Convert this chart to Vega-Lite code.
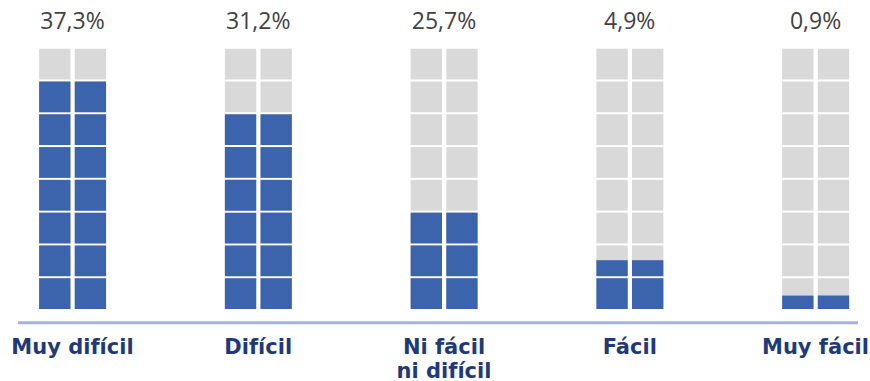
{
  "$schema": "https://vega.github.io/schema/vega-lite/v6.json",
  "width": 870,
  "height": 381,
  "padding": 0,
  "autosize": {"type": "none"},
  "background": "white",
  "config": {"view": {"stroke": null}},
  "datasets": {
    "cats": [
      {"cat": "Muy difícil", "pct": "37,3%"},
      {"cat": "Difícil", "pct": "31,2%"},
      {"cat": "Ni fácil\nni difícil", "pct": "25,7%"},
      {"cat": "Fácil", "pct": "4,9%"},
      {"cat": "Muy fácil", "pct": "0,9%"}
    ],
    "cells": [
      {"cat": "Muy difícil", "col": 1, "lo": 0, "hi": 1, "blue": 1},
      {"cat": "Muy difícil", "col": 1, "lo": 1, "hi": 2, "blue": 2},
      {"cat": "Muy difícil", "col": 1, "lo": 2, "hi": 3, "blue": 3},
      {"cat": "Muy difícil", "col": 1, "lo": 3, "hi": 4, "blue": 4},
      {"cat": "Muy difícil", "col": 1, "lo": 4, "hi": 5, "blue": 5},
      {"cat": "Muy difícil", "col": 1, "lo": 5, "hi": 6, "blue": 6},
      {"cat": "Muy difícil", "col": 1, "lo": 6, "hi": 7, "blue": 7},
      {"cat": "Muy difícil", "col": 1, "lo": 7, "hi": 8, "blue": null},
      {"cat": "Muy difícil", "col": 2, "lo": 0, "hi": 1, "blue": 1},
      {"cat": "Muy difícil", "col": 2, "lo": 1, "hi": 2, "blue": 2},
      {"cat": "Muy difícil", "col": 2, "lo": 2, "hi": 3, "blue": 3},
      {"cat": "Muy difícil", "col": 2, "lo": 3, "hi": 4, "blue": 4},
      {"cat": "Muy difícil", "col": 2, "lo": 4, "hi": 5, "blue": 5},
      {"cat": "Muy difícil", "col": 2, "lo": 5, "hi": 6, "blue": 6},
      {"cat": "Muy difícil", "col": 2, "lo": 6, "hi": 7, "blue": 7},
      {"cat": "Muy difícil", "col": 2, "lo": 7, "hi": 8, "blue": null},
      {"cat": "Difícil", "col": 1, "lo": 0, "hi": 1, "blue": 1},
      {"cat": "Difícil", "col": 1, "lo": 1, "hi": 2, "blue": 2},
      {"cat": "Difícil", "col": 1, "lo": 2, "hi": 3, "blue": 3},
      {"cat": "Difícil", "col": 1, "lo": 3, "hi": 4, "blue": 4},
      {"cat": "Difícil", "col": 1, "lo": 4, "hi": 5, "blue": 5},
      {"cat": "Difícil", "col": 1, "lo": 5, "hi": 6, "blue": 6},
      {"cat": "Difícil", "col": 1, "lo": 6, "hi": 7, "blue": null},
      {"cat": "Difícil", "col": 1, "lo": 7, "hi": 8, "blue": null},
      {"cat": "Difícil", "col": 2, "lo": 0, "hi": 1, "blue": 1},
      {"cat": "Difícil", "col": 2, "lo": 1, "hi": 2, "blue": 2},
      {"cat": "Difícil", "col": 2, "lo": 2, "hi": 3, "blue": 3},
      {"cat": "Difícil", "col": 2, "lo": 3, "hi": 4, "blue": 4},
      {"cat": "Difícil", "col": 2, "lo": 4, "hi": 5, "blue": 5},
      {"cat": "Difícil", "col": 2, "lo": 5, "hi": 6, "blue": 6},
      {"cat": "Difícil", "col": 2, "lo": 6, "hi": 7, "blue": null},
      {"cat": "Difícil", "col": 2, "lo": 7, "hi": 8, "blue": null},
      {"cat": "Ni fácil\nni difícil", "col": 1, "lo": 0, "hi": 1, "blue": 1},
      {"cat": "Ni fácil\nni difícil", "col": 1, "lo": 1, "hi": 2, "blue": 2},
      {"cat": "Ni fácil\nni difícil", "col": 1, "lo": 2, "hi": 3, "blue": 3},
      {"cat": "Ni fácil\nni difícil", "col": 1, "lo": 3, "hi": 4, "blue": null},
      {"cat": "Ni fácil\nni difícil", "col": 1, "lo": 4, "hi": 5, "blue": null},
      {"cat": "Ni fácil\nni difícil", "col": 1, "lo": 5, "hi": 6, "blue": null},
      {"cat": "Ni fácil\nni difícil", "col": 1, "lo": 6, "hi": 7, "blue": null},
      {"cat": "Ni fácil\nni difícil", "col": 1, "lo": 7, "hi": 8, "blue": null},
      {"cat": "Ni fácil\nni difícil", "col": 2, "lo": 0, "hi": 1, "blue": 1},
      {"cat": "Ni fácil\nni difícil", "col": 2, "lo": 1, "hi": 2, "blue": 2},
      {"cat": "Ni fácil\nni difícil", "col": 2, "lo": 2, "hi": 3, "blue": 3},
      {"cat": "Ni fácil\nni difícil", "col": 2, "lo": 3, "hi": 4, "blue": null},
      {"cat": "Ni fácil\nni difícil", "col": 2, "lo": 4, "hi": 5, "blue": null},
      {"cat": "Ni fácil\nni difícil", "col": 2, "lo": 5, "hi": 6, "blue": null},
      {"cat": "Ni fácil\nni difícil", "col": 2, "lo": 6, "hi": 7, "blue": null},
      {"cat": "Ni fácil\nni difícil", "col": 2, "lo": 7, "hi": 8, "blue": null},
      {"cat": "Fácil", "col": 1, "lo": 0, "hi": 1, "blue": 1},
      {"cat": "Fácil", "col": 1, "lo": 1, "hi": 2, "blue": 1.55},
      {"cat": "Fácil", "col": 1, "lo": 2, "hi": 3, "blue": null},
      {"cat": "Fácil", "col": 1, "lo": 3, "hi": 4, "blue": null},
      {"cat": "Fácil", "col": 1, "lo": 4, "hi": 5, "blue": null},
      {"cat": "Fácil", "col": 1, "lo": 5, "hi": 6, "blue": null},
      {"cat": "Fácil", "col": 1, "lo": 6, "hi": 7, "blue": null},
      {"cat": "Fácil", "col": 1, "lo": 7, "hi": 8, "blue": null},
      {"cat": "Fácil", "col": 2, "lo": 0, "hi": 1, "blue": 1},
      {"cat": "Fácil", "col": 2, "lo": 1, "hi": 2, "blue": 1.55},
      {"cat": "Fácil", "col": 2, "lo": 2, "hi": 3, "blue": null},
      {"cat": "Fácil", "col": 2, "lo": 3, "hi": 4, "blue": null},
      {"cat": "Fácil", "col": 2, "lo": 4, "hi": 5, "blue": null},
      {"cat": "Fácil", "col": 2, "lo": 5, "hi": 6, "blue": null},
      {"cat": "Fácil", "col": 2, "lo": 6, "hi": 7, "blue": null},
      {"cat": "Fácil", "col": 2, "lo": 7, "hi": 8, "blue": null},
      {"cat": "Muy fácil", "col": 1, "lo": 0, "hi": 1, "blue": 0.47},
      {"cat": "Muy fácil", "col": 1, "lo": 1, "hi": 2, "blue": null},
      {"cat": "Muy fácil", "col": 1, "lo": 2, "hi": 3, "blue": null},
      {"cat": "Muy fácil", "col": 1, "lo": 3, "hi": 4, "blue": null},
      {"cat": "Muy fácil", "col": 1, "lo": 4, "hi": 5, "blue": null},
      {"cat": "Muy fácil", "col": 1, "lo": 5, "hi": 6, "blue": null},
      {"cat": "Muy fácil", "col": 1, "lo": 6, "hi": 7, "blue": null},
      {"cat": "Muy fácil", "col": 1, "lo": 7, "hi": 8, "blue": null},
      {"cat": "Muy fácil", "col": 2, "lo": 0, "hi": 1, "blue": 0.47},
      {"cat": "Muy fácil", "col": 2, "lo": 1, "hi": 2, "blue": null},
      {"cat": "Muy fácil", "col": 2, "lo": 2, "hi": 3, "blue": null},
      {"cat": "Muy fácil", "col": 2, "lo": 3, "hi": 4, "blue": null},
      {"cat": "Muy fácil", "col": 2, "lo": 4, "hi": 5, "blue": null},
      {"cat": "Muy fácil", "col": 2, "lo": 5, "hi": 6, "blue": null},
      {"cat": "Muy fácil", "col": 2, "lo": 6, "hi": 7, "blue": null},
      {"cat": "Muy fácil", "col": 2, "lo": 7, "hi": 8, "blue": null}
    ]
  },
  "layer": [
    {
      "data": {"name": "cells"},
      "mark": {"type": "bar", "color": "#d9d9d9", "y2Offset": 2},
      "encoding": {
        "x": {"field": "cat", "type": "nominal", "axis": null, "scale": {"domain": ["Muy difícil", "Difícil", "Ni fácil\nni difícil", "Fácil", "Muy fácil"], "range": [-20.4, 908.4], "paddingInner": 0, "paddingOuter": 0}},
        "xOffset": {"field": "col", "type": "nominal", "scale": {"domain": [1, 2], "range": [59.5, 126.5], "paddingInner": 0.12, "paddingOuter": 0}},
        "y": {"field": "lo", "type": "quantitative", "axis": null, "scale": {"domain": [0, 8], "range": [309, 46.7], "nice": false, "zero": false}},
        "y2": {"field": "hi"}
      }
    },
    {
      "data": {"name": "cells"},
      "transform": [{"filter": "datum.blue != null"}],
      "mark": {"type": "bar", "color": "#3c64ac", "y2Offset": 2},
      "encoding": {
        "x": {"field": "cat", "type": "nominal", "axis": null},
        "xOffset": {"field": "col", "type": "nominal"},
        "y": {"field": "lo", "type": "quantitative", "axis": null},
        "y2": {"field": "blue"}
      }
    },
    {
      "data": {"values": [{}]},
      "mark": {"type": "rule", "color": "#a4b4de", "strokeWidth": 3, "xOffset": -54.5, "x2Offset": 42.5},
      "encoding": {
        "x": {"datum": "Muy difícil", "type": "nominal"},
        "x2": {"datum": "Muy fácil"},
        "y": {"datum": -0.418, "type": "quantitative"}
      }
    },
    {
      "data": {"name": "cats"},
      "mark": {"type": "text", "font": "Open Sans", "fontSize": 23, "color": "#424242", "baseline": "middle", "align": "center"},
      "encoding": {
        "x": {"field": "cat", "type": "nominal"},
        "y": {"datum": 8.76, "type": "quantitative"},
        "text": {"field": "pct"}
      }
    },
    {
      "data": {"name": "cats"},
      "mark": {"type": "text", "font": "DejaVu Sans", "fontSize": 21, "fontWeight": "bold", "color": "#1f3a78", "baseline": "alphabetic", "align": "center", "lineBreak": "\n", "lineHeight": 24},
      "encoding": {
        "x": {"field": "cat", "type": "nominal"},
        "y": {"datum": -1.38, "type": "quantitative"},
        "text": {"field": "cat"}
      }
    }
  ]
}
